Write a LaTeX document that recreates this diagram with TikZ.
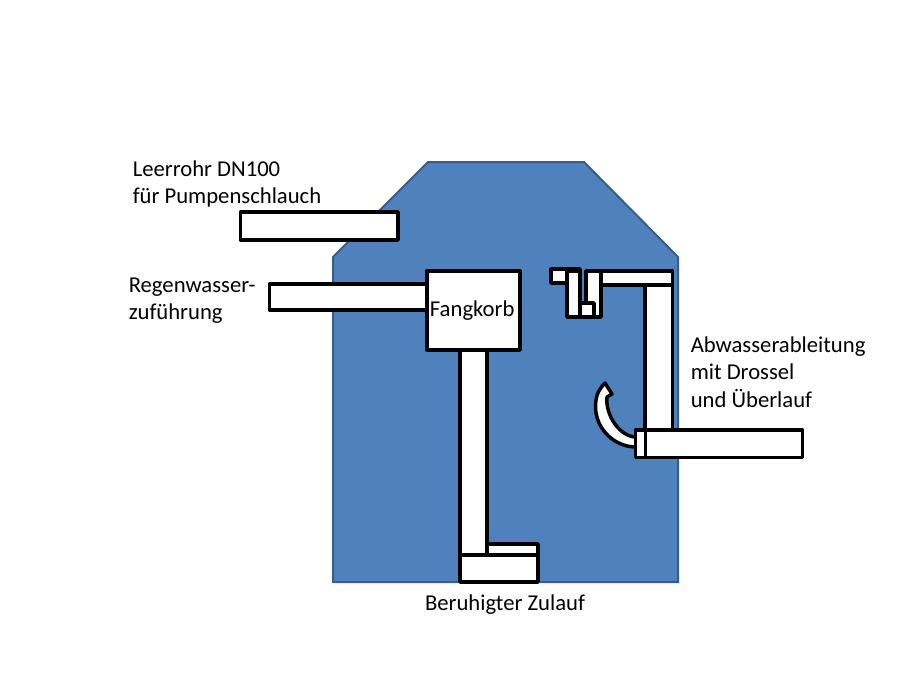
\documentclass[tikz,border=0pt]{standalone}
\usepackage{fontspec}
\setmainfont{Carlito}
\usepackage{tikz}
\usetikzlibrary{positioning}
\definecolor{tankfill}{HTML}{4F81BD}
\definecolor{tankline}{HTML}{385D8A}
\tikzset{tank/.style =
   {draw=tankline,
    fill=tankfill,
    line width=1.5pt}}
\tikzset{pipe/.style =
   {draw=black,
    fill=white,
    line width=2.6pt,
    line join=round}}
\tikzset{caption/.style =
   {align=left,
    inner sep=0pt,
    font=\fontsize{17}{20.6}\selectfont}}
\begin{document}
\begin{tikzpicture}[x=0.75pt,y=-0.75pt]
    \useasboundingbox (0,0) rectangle (908,682);

    \draw [tank] (333,582) -- (333,257) -- (428,162) -- (584,162)
                 -- (678,257) -- (678,582) -- cycle;

    % inlet side
    \draw [pipe] (240.5,212) rectangle (398,240);
    \draw [pipe] (269.5,284) rectangle (427,310);
    \draw [pipe] (460,350) rectangle (487,555);
    \draw [pipe] (487,544) rectangle (538,555);
    \draw [pipe] (460,555) rectangle (538,582);

    % outlet side
    \draw [pipe] (645,285) rectangle (672.5,431);
    \draw [pipe] (586,271) rectangle (601,317);
    \draw [pipe] (601,271) rectangle (672.5,285);
    \draw [pipe] (551,269) rectangle (580,283);
    \draw [pipe] (567,271) rectangle (580,317);
    \draw [pipe] (580,303) rectangle (594,317);

    % bent outlet
    \draw [pipe] (636,447) .. controls (612,447) and (592,425) .. (596,400)
                 .. controls (597,393) and (600,388) .. (605,383)
                 -- (612,394) -- (607,397)
                 .. controls (605,415) and (620,437) .. (636,437) -- cycle;
    \draw [pipe] (635.5,430) rectangle (645.5,457.5);
    \draw [pipe] (645.5,430) rectangle (802.5,457.5);

    \node [pipe,
           minimum width=69.75pt,
           minimum height=59.25pt,
           inner sep=0pt,
           anchor=north west,
           font=\fontsize{17}{20.6}\selectfont] (fangkorb) at (425.3,269.3) {\hspace*{-2pt}Fangkorb};

    \node [caption, anchor=north west] (leerrohr) at (132.5,160)
        {Leerrohr DN100\\für Pumpenschlauch};
    \node [caption, anchor=north west] (regenwasser) at (128.5,277.5)
        {Regenwasser-\\zuführung};
    \node [caption, anchor=north west] (abwasser) at (690.5,336.5)
        {Abwasserableitung\\mit Drossel\\und Überlauf};
    \node [caption, anchor=center] (zulauf) at (505,605) {Beruhigter Zulauf};
\end{tikzpicture}
\end{document}
